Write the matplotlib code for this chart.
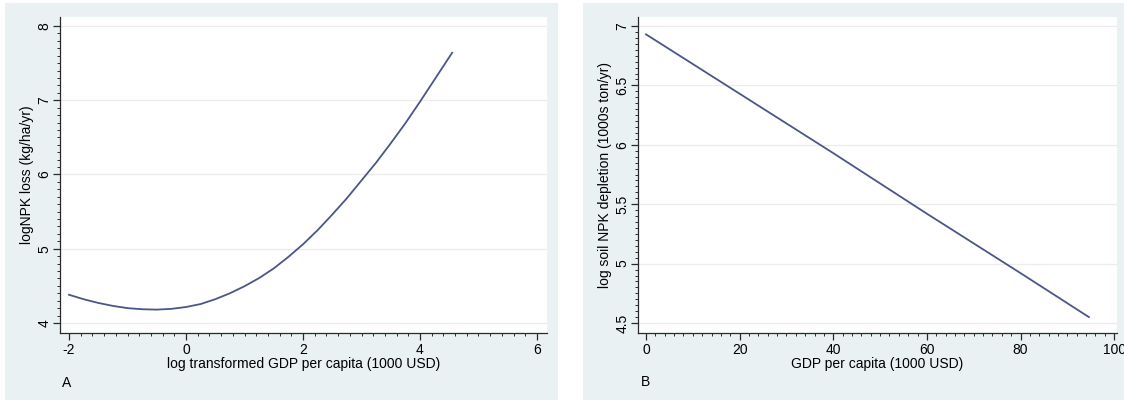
import matplotlib
matplotlib.use("Agg")
import matplotlib.pyplot as plt
from matplotlib.patches import Rectangle
from matplotlib.ticker import FixedLocator

plt.rcParams["font.family"] = ["Liberation Sans", "DejaVu Sans"]
plt.rcParams["font.size"] = 10
plt.rcParams["axes.unicode_minus"] = False

# Panel A: fitted log NPK loss vs log GDP per capita
gdp_log = [-2.0, -1.75, -1.5, -1.25, -1.0, -0.75, -0.5, -0.25, 0.0, 0.25, 0.5,
           0.75, 1.0, 1.25, 1.5, 1.75, 2.0, 2.25, 2.5, 2.75, 3.0, 3.25, 3.5,
           3.75, 4.0, 4.25, 4.55]
npk_loss_log = [4.38, 4.32, 4.27, 4.23, 4.20, 4.185, 4.18, 4.19, 4.215, 4.255, 4.32,
                4.40, 4.495, 4.605, 4.735, 4.89, 5.06, 5.25, 5.46, 5.68, 5.92, 6.16, 6.42,
                6.69, 6.98, 7.28, 7.64]
a_xticks = [-2, 0, 2, 4, 6]
a_yticks = [4, 5, 6, 7, 8]

# Panel B: fitted log soil NPK depletion vs GDP per capita
gdp = [0, 20, 40, 60, 80, 94.6]
depletion_log = [6.93, 6.43, 5.93, 5.42, 4.92, 4.55]
b_xticks = [0, 20, 40, 60, 80, 100]
b_yticks = [4.5, 5, 5.5, 6, 6.5, 7]

LINE = "#4b5686"
BG = "#e9f1f3"
AXIS = "#2a2a2a"

W, H = 1124, 403
fig = plt.figure(figsize=(W / 100, H / 100), dpi=100)
fig.patch.set_facecolor("white")

# light graph-region panels behind each plot
for x0, x1 in [(5, 558), (583, 1124)]:
    fig.add_artist(Rectangle((x0 / W, 1 - 400 / H), (x1 - x0) / W, 397 / H,
                             transform=fig.transFigure, facecolor=BG,
                             edgecolor="none", zorder=-10))

ax_a = fig.add_axes([60 / W, 1 - 333 / H, 487 / W, 316 / H])
ax_b = fig.add_axes([638 / W, 1 - 333 / H, 479 / W, 316 / H])


def minor_between(ticks, step):
    n = int(round((ticks[-1] - ticks[0]) / step))
    return [ticks[0] + i * step for i in range(n + 1)]


def style(ax, xticks, yticks, xstep, ystep, xlabel, ylabel):
    ax.set_facecolor("white")
    for side in ["top", "right"]:
        ax.spines[side].set_visible(False)
    for side in ["left", "bottom"]:
        ax.spines[side].set_color(AXIS)
        ax.spines[side].set_linewidth(0.9)
    ax.set_xticks(xticks)
    ax.set_yticks(yticks)
    ax.set_yticklabels([f"{v:g}" for v in yticks])
    ax.xaxis.set_minor_locator(FixedLocator(minor_between(xticks, xstep)))
    ax.yaxis.set_minor_locator(FixedLocator(minor_between(yticks, ystep)))
    ax.tick_params(which="major", length=5, width=0.9, color=AXIS, labelsize=10, pad=2.5)
    ax.tick_params(axis="y", which="major", pad=1)
    ax.tick_params(which="minor", length=2.5, width=0.7, color=AXIS)
    for lab in ax.get_yticklabels():
        lab.set_rotation(90)
        lab.set_va("center")
    ax.grid(True, axis="y", which="major", color="#ececec", linewidth=0.9)
    ax.set_axisbelow(True)
    ax.set_xlabel(xlabel, fontsize=10, labelpad=0)
    ax.set_ylabel(ylabel, fontsize=10, labelpad=3)


ax_a.plot(gdp_log, npk_loss_log, color=LINE, linewidth=1.3)
ax_a.set_xlim(-2.154, 6.171)
ax_a.set_ylim(3.865, 8.121)
style(ax_a, a_xticks, a_yticks, 0.2, 0.1,
      "log transformed GDP per capita (1000 USD)", "logNPK loss (kg/ha/yr)")

ax_b.plot(gdp, depletion_log, color=LINE, linewidth=1.3)
ax_b.set_xlim(-1.71, 100.6)
ax_b.set_ylim(4.416, 7.076)
style(ax_b, b_xticks, b_yticks, 2, 0.05,
      "GDP per capita (1000 USD)", "log soil NPK depletion (1000s ton/yr)")

fig.text(67 / W, 1 - 383 / H, "A", fontsize=10, ha="center", va="center")
fig.text(645 / W, 1 - 382 / H, "B", fontsize=10, ha="center", va="center")

fig.savefig("out.png", dpi=100)
